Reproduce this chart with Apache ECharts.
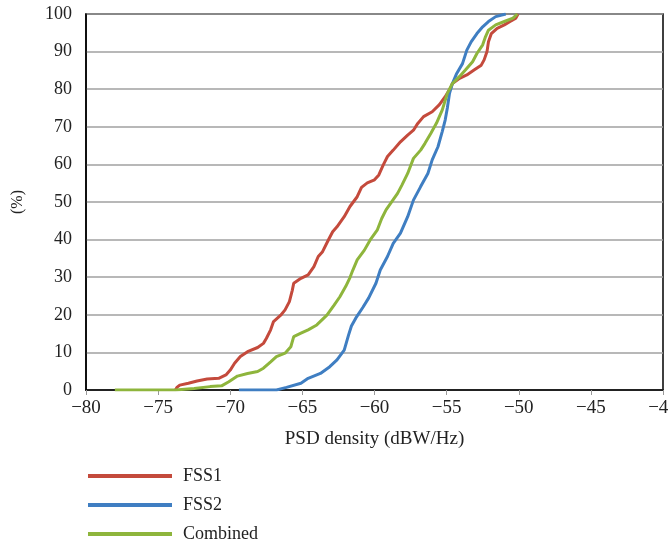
<!DOCTYPE html>
<html><head><meta charset="utf-8">
<script src="https://cdn.jsdelivr.net/npm/echarts@6/dist/echarts.min.js"></script>
<style>html,body{margin:0;padding:0;background:#fff}#c{width:668px;height:549px}</style>
</head><body><div id="c"></div>
<script>
const seriesNames = ['FSS1', 'FSS2', 'Combined'];
const xTicks = [-80, -75, -70, -65, -60, -55, -50, -45, -40];
const yTicks = [0, 10, 20, 30, 40, 50, 60, 70, 80, 90, 100];

const fss1 = [
  [-73.8,0],[-73.7,0.7],[-73.5,1.3],[-72.9,1.8],[-72.3,2.4],[-71.6,2.9],[-70.8,3.1],[-70.3,4.0],[-70.0,5.3],
  [-69.7,7.1],[-69.3,8.9],[-68.8,10.2],[-68.1,11.3],[-67.7,12.4],[-67.5,13.7],[-67.2,16.0],[-67.0,18.2],
  [-66.5,19.9],[-66.2,21.3],[-65.9,23.5],[-65.7,26.5],[-65.6,28.4],[-65.1,29.7],[-64.6,30.6],[-64.2,32.8],
  [-63.9,35.5],[-63.6,36.8],[-63.2,39.9],[-62.9,42.1],[-62.6,43.4],[-62.1,46.1],[-61.7,48.8],[-61.2,51.4],
  [-60.9,53.9],[-60.5,55.1],[-60.0,55.9],[-59.7,57.2],[-59.4,59.8],[-59.1,62.1],[-58.7,63.8],[-58.2,66.0],
  [-57.7,67.8],[-57.3,69.1],[-57.0,70.9],[-56.6,72.7],[-56.0,74.0],[-55.5,75.9],[-55.1,78.0],[-54.7,80.5],
  [-54.6,81.5],[-54.1,82.9],[-53.6,83.8],[-53.1,85.1],[-52.6,86.4],[-52.4,87.8],[-52.2,90.0],[-52.1,92.6],
  [-51.9,94.8],[-51.5,96.2],[-51.0,97.1],[-50.6,98.0],[-50.2,98.9],[-50.05,100]
];
const fss2 = [
  [-69.4,0],[-66.8,0],[-66.1,0.7],[-65.1,1.8],[-64.6,3.1],[-63.75,4.4],[-63.1,6.2],[-62.6,8.0],[-62.1,10.6],
  [-61.8,14.6],[-61.6,17.0],[-61.3,19.1],[-60.8,22.0],[-60.4,24.5],[-59.9,28.4],[-59.6,31.9],[-59.1,35.5],
  [-58.7,39.0],[-58.2,41.7],[-57.7,46.1],[-57.3,50.5],[-56.8,54.1],[-56.3,57.6],[-56.0,61.2],[-55.6,64.7],
  [-55.3,68.8],[-55.1,71.8],[-54.95,75.0],[-54.8,78.9],[-54.6,81.5],[-54.3,84.2],[-53.9,86.8],[-53.6,90.4],
  [-53.3,92.6],[-52.9,94.8],[-52.5,96.6],[-52.1,98.0],[-51.6,99.3],[-50.9,100]
];
const combined = [
  [-78.0,0],[-73.8,0],[-72.5,0.4],[-71.4,0.9],[-70.6,1.1],[-70.1,2.2],[-69.5,3.7],[-68.8,4.4],[-68.1,4.9],
  [-67.7,5.8],[-67.2,7.5],[-66.8,8.9],[-66.2,9.8],[-65.8,11.5],[-65.6,14.2],[-65.1,15.1],[-64.6,16.0],
  [-64.0,17.3],[-63.3,19.9],[-62.8,22.6],[-62.4,24.8],[-62.0,27.5],[-61.7,29.9],[-61.5,31.9],[-61.2,34.6],
  [-60.7,37.2],[-60.3,39.9],[-59.8,42.6],[-59.5,45.6],[-59.2,47.9],[-58.8,50.1],[-58.4,52.3],[-58.1,54.5],
  [-57.7,57.6],[-57.3,61.6],[-56.8,63.8],[-56.5,65.6],[-56.1,68.2],[-55.7,71.0],[-55.3,74.5],[-54.95,78.9],
  [-54.6,81.5],[-54.1,83.4],[-53.7,85.1],[-53.2,87.3],[-52.9,89.5],[-52.5,91.8],[-52.3,94.0],[-52.1,95.7],
  [-51.6,97.1],[-51.0,98.0],[-50.4,98.9],[-50.1,100]
];
const seriesData = [fss1, fss2, combined];
const colors = ['#C44A3C', '#3F7EC2', '#8EB53C'];

const FONT = '"Liberation Serif", "DejaVu Serif", serif';
const chart = echarts.init(document.getElementById('c'));
chart.setOption({
  animation: false,
  color: colors,
  grid: { left: 86, right: 5, top: 14, bottom: 159, show: true, borderColor: '#000', borderWidth: 1.5,
          outerBoundsMode: 'none', containLabel: false },
  legend: {
    orient: 'vertical', left: 88, top: 467, itemWidth: 84, itemHeight: 4, itemGap: 11, padding: 0,
    height: 100,
    icon: 'rect',
    textStyle: { fontFamily: FONT, fontSize: 18, color: '#222', padding: [0,0,0,6], lineHeight: 18 },
    data: seriesNames
  },
  xAxis: {
    type: 'value', min: xTicks[0], max: xTicks[xTicks.length-1], interval: 5,
    name: 'PSD density (dBW/Hz)', nameLocation: 'middle', nameGap: 40,
    nameTextStyle: { fontFamily: FONT, fontSize: 19, color: '#222' },
    axisLine: { show: true, lineStyle: { color: '#000', width: 1.5 } },
    axisTick: { show: true, length: 5, lineStyle: { color: '#999' } },
    axisLabel: { fontFamily: FONT, fontSize: 19, color: '#222', margin: 9, showMaxLabel: true,
      formatter: v => String(v).replace('-', '\u2212') },
    splitLine: { show: false }
  },
  yAxis: {
    type: 'value', min: yTicks[0], max: yTicks[yTicks.length-1], interval: 10,
    name: '(%)', nameLocation: 'middle', nameGap: 60, nameRotate: 90,
    nameTextStyle: { fontFamily: FONT, fontSize: 16, color: '#222' },
    axisLine: { show: true, lineStyle: { color: '#000', width: 1.5 } },
    axisTick: { show: false },
    axisLabel: { fontFamily: FONT, fontSize: 18, color: '#222', margin: 14 },
    splitLine: { show: true, lineStyle: { color: '#a0a0a0', width: 1.5 } }
  },
  series: seriesNames.map((n, i) => ({
    name: n, type: 'line', data: seriesData[i], showSymbol: false, symbol: 'none',
    lineStyle: { width: 3, color: colors[i] }, z: 3 + i
  }))
});
</script></body></html>
